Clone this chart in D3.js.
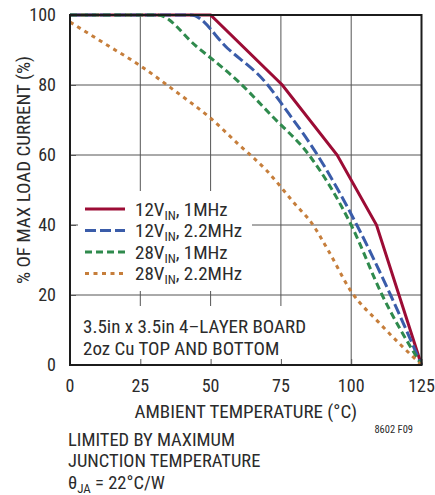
<!DOCTYPE html>
<meta charset="utf-8">
<style>
body { margin: 0; background: #fff; }
svg text { font-family: "Liberation Sans Narrow", "Arial Narrow", "Roboto Condensed", sans-serif; fill: #2b2b2b; }
</style>
<body>
<script src="https://cdn.jsdelivr.net/npm/d3@7"></script>
<script>

var xTicks = [0, 25, 50, 75, 100, 125];
var yTicks = [0, 20, 40, 60, 80, 100];

var temp12v1 = [0, 50, 75.5, 95, 109, 125];
var pct12v1  = [100, 100, 80, 60, 40, 0];

var temp12v22 = [0, 43, 56, 70, 76, 88, 102, 114, 125];
var pct12v22  = [100, 100, 90.5, 80.3, 73.8, 60, 40, 20, 0];

var temp28v1 = [0, 31, 45, 60.5, 72, 85, 100, 111, 125];
var pct28v1  = [100, 100, 91, 80.5, 71, 60, 40, 20, 0];

var temp28v22 = [0, 12, 25, 37, 50, 60, 70, 80, 86, 92, 100, 110, 125];
var pct28v22  = [98, 92, 85.5, 78.5, 70.5, 63, 55.5, 46, 40.5, 32.5, 21, 12, 0];

var seriesNames = ["12V", "12V", "28V", "28V"];
var seriesFreq = [", 1MHz", ", 2.2MHz", ", 1MHz", ", 2.2MHz"];

var series = [
  {t: temp12v1, p: pct12v1, color: "#9c0c35", dash: null, curve: d3.curveLinear},
  {t: temp12v22, p: pct12v22, color: "#3a5ca9", dash: "11,4", curve: d3.curveMonotoneX},
  {t: temp28v1, p: pct28v1, color: "#2f8a4d", dash: "7,4", curve: d3.curveMonotoneX},
  {t: temp28v22, p: pct28v22, color: "#c67e3b", dash: "4,4.5", curve: d3.curveMonotoneX}
];

var width = 435, height = 495;

var x = d3.scaleLinear().domain([0, 125]).range([70, 421.5]);
var y = d3.scaleLinear().domain([0, 100]).range([365, 15]);

var svg = d3.select("body").append("svg")
  .attr("width", width)
  .attr("height", height);

// grid
svg.append("g").selectAll("line.vx")
  .data(xTicks.slice(1, -1))
  .enter().append("line")
    .attr("x1", function(d) { return x(d); })
    .attr("x2", function(d) { return x(d); })
    .attr("y1", y(100)).attr("y2", y(0))
    .attr("stroke", "#555").attr("stroke-width", 1);

svg.append("g").selectAll("line.hy")
  .data(yTicks.slice(1, -1))
  .enter().append("line")
    .attr("y1", function(d) { return y(d); })
    .attr("y2", function(d) { return y(d); })
    .attr("x1", x(0)).attr("x2", x(125))
    .attr("stroke", "#555").attr("stroke-width", 1);

// white boxes behind legend and note
svg.append("rect").attr("x", 78).attr("y", 191).attr("width", 174).attr("height", 100).attr("fill", "#fff");
svg.append("rect").attr("x", 71).attr("y", 306).attr("width", 258).attr("height", 58).attr("fill", "#fff");

// inner ticks
var xAxis = d3.axisTop(x).tickValues(xTicks).tickSize(6).tickFormat("");
svg.append("g").attr("transform", "translate(0," + y(0) + ")").call(xAxis)
  .call(function(g) { g.select(".domain").remove(); g.selectAll("line").attr("stroke", "#555"); });
var yAxis = d3.axisRight(y).tickValues(yTicks).tickSize(6).tickFormat("");
svg.append("g").attr("transform", "translate(" + x(0) + ",0)").call(yAxis)
  .call(function(g) { g.select(".domain").remove(); g.selectAll("line").attr("stroke", "#555"); });

// curves
series.forEach(function(s) {
  var pts = s.t.map(function(t, i) { return [t, s.p[i]]; });
  var line = d3.line()
    .x(function(d) { return x(d[0]); })
    .y(function(d) { return y(d[1]); })
    .curve(s.curve);
  svg.append("path")
    .attr("d", line(pts))
    .attr("fill", "none")
    .attr("stroke", s.color)
    .attr("stroke-width", 3)
    .attr("stroke-dasharray", s.dash);
});

// frame
svg.append("rect")
  .attr("x", x(0)).attr("y", y(100))
  .attr("width", x(125) - x(0)).attr("height", y(0) - y(100))
  .attr("fill", "none").attr("stroke", "#1c1c1c").attr("stroke-width", 2);

// tick labels
svg.append("g").selectAll("text")
  .data(xTicks)
  .enter().append("text")
    .attr("x", function(d) { return x(d); })
    .attr("y", 392)
    .attr("text-anchor", "middle")
    .style("font-size", "18px")
    .text(function(d) { return d; });

svg.append("g").selectAll("text")
  .data(yTicks)
  .enter().append("text")
    .attr("x", 56)
    .attr("y", function(d) { return y(d) + 6; })
    .attr("text-anchor", "end")
    .style("font-size", "18px")
    .text(function(d) { return d; });

// axis titles
svg.append("text")
  .attr("x", x(62.5)).attr("y", 418)
  .attr("text-anchor", "middle")
  .style("font-size", "19px")
  .text("AMBIENT TEMPERATURE (°C)");

svg.append("text")
  .attr("transform", "translate(30,170) rotate(-90)")
  .attr("text-anchor", "middle")
  .style("font-size", "19px")
  .text("% OF MAX LOAD CURRENT (%)");

// legend
var leg = svg.append("g").selectAll("g")
  .data(series)
  .enter().append("g")
    .attr("transform", function(d, i) { return "translate(85," + (209 + i * 21.5) + ")"; });

leg.append("line")
  .attr("x1", 0).attr("x2", 40)
  .attr("stroke", function(d) { return d.color; })
  .attr("stroke-width", 3)
  .attr("stroke-dasharray", function(d) { return d.dash; });

var lt = leg.append("text")
  .attr("x", 50).attr("y", 6.5)
  .style("font-size", "19px");
lt.append("tspan").text(function(d, i) { return seriesNames[i]; });
lt.append("tspan").attr("dy", 4).style("font-size", "13px").text("IN");
lt.append("tspan").attr("dy", -4).text(function(d, i) { return seriesFreq[i]; });

// board note
svg.append("text").attr("x", 83).attr("y", 333).style("font-size", "19px")
  .text("3.5in x 3.5in 4\u2013LAYER BOARD");
svg.append("text").attr("x", 83).attr("y", 355).style("font-size", "19px")
  .text("2oz Cu TOP AND BOTTOM");

svg.append("text").attr("x", 413).attr("y", 433).attr("text-anchor", "end")
  .style("font-size", "10.5px").text("8602 F09");

// bottom notes
svg.append("text").attr("x", 68).attr("y", 446).style("font-size", "18.5px")
  .text("LIMITED BY MAXIMUM");
svg.append("text").attr("x", 68).attr("y", 467).style("font-size", "18.5px")
  .text("JUNCTION TEMPERATURE");
var th = svg.append("text").attr("x", 68).attr("y", 489).style("font-size", "18.5px");
th.append("tspan").text("\u03b8");
th.append("tspan").attr("dy", 4).style("font-size", "13px").text("JA");
th.append("tspan").attr("dy", -4).text(" = 22°C/W");

</script>
</body>
